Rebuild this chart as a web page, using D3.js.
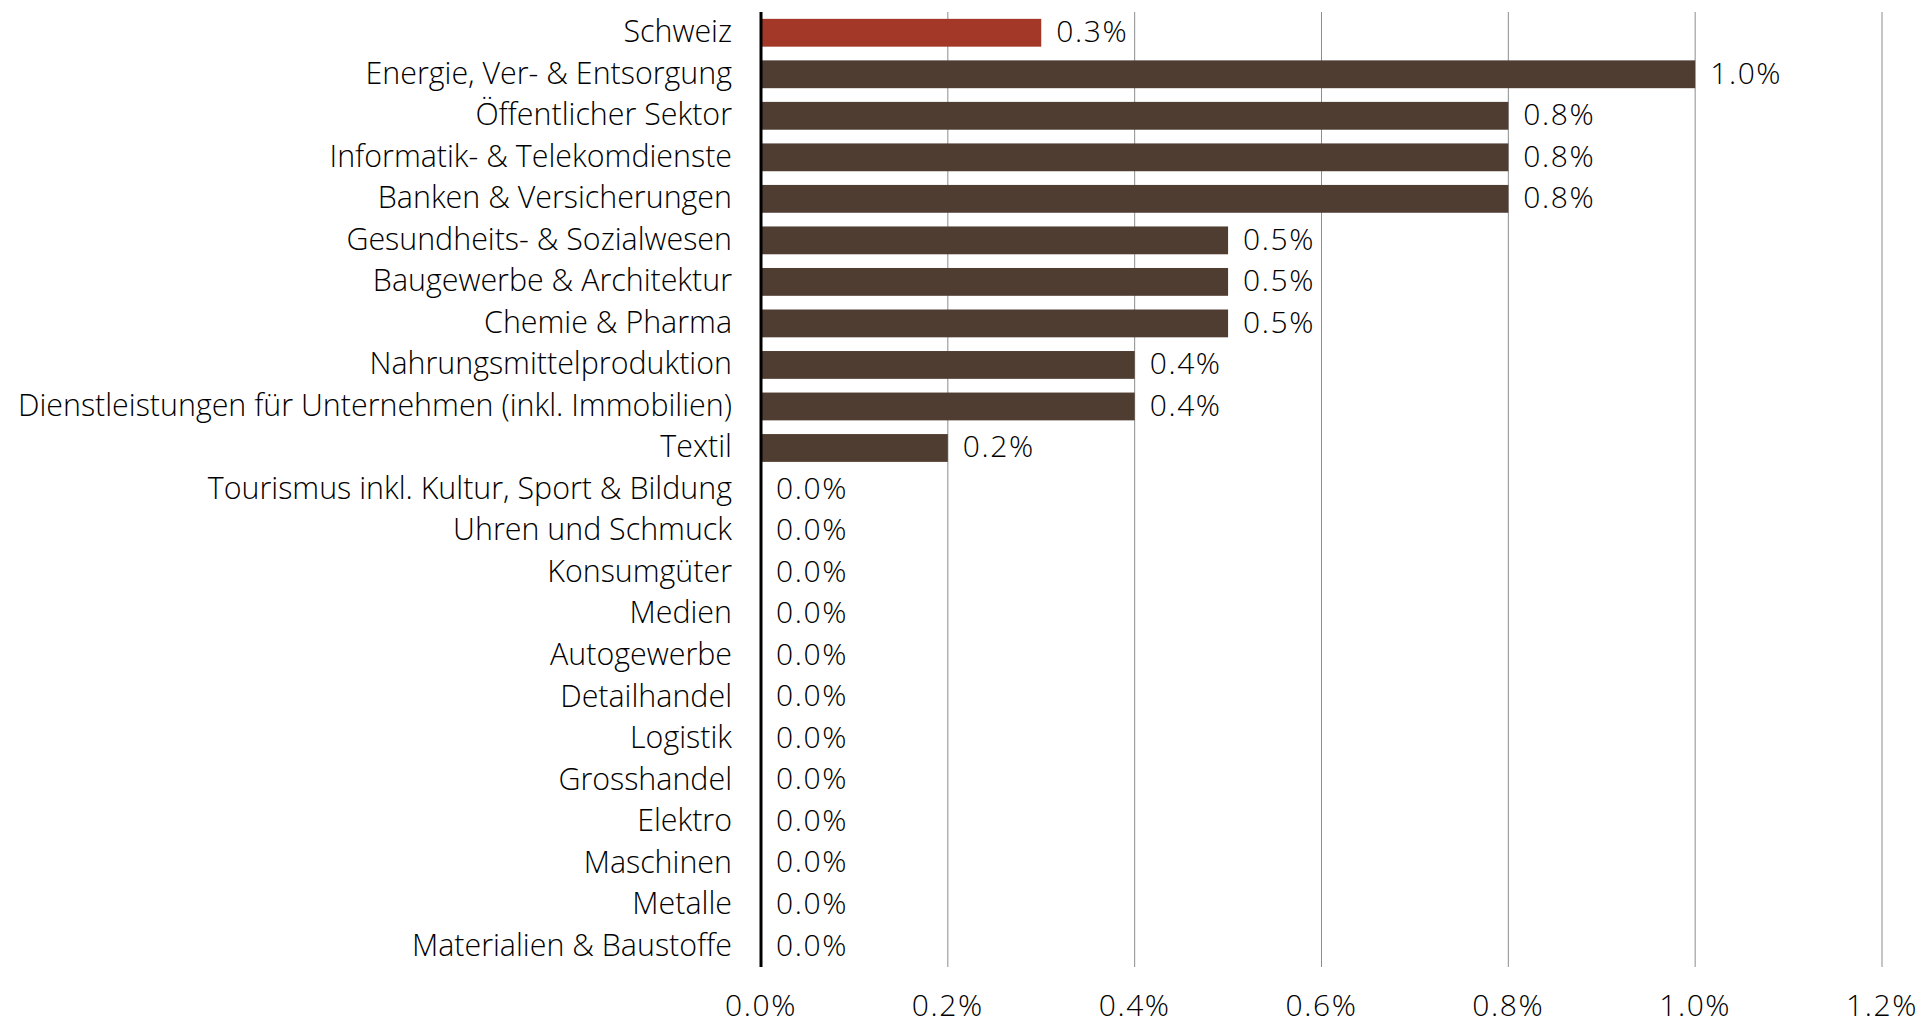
<!DOCTYPE html>
<html>
<head>
<meta charset="utf-8">
<script src="https://cdn.jsdelivr.net/npm/d3@7"></script>
<style>
  html, body { margin: 0; padding: 0; background: #fff; overflow: hidden; }
  text { font-family: "Open Sans", "Noto Sans", sans-serif; font-weight: 300; fill: #000; }
  .num { letter-spacing: 1.6px; }
</style>
</head>
<body>
<div id="chart"></div>
<script>

// categories, top to bottom
var categories = ["Schweiz", "Energie, Ver- & Entsorgung", "Öffentlicher Sektor",
  "Informatik- & Telekomdienste", "Banken & Versicherungen", "Gesundheits- & Sozialwesen",
  "Baugewerbe & Architektur", "Chemie & Pharma", "Nahrungsmittelproduktion",
  "Dienstleistungen für Unternehmen (inkl. Immobilien)", "Textil",
  "Tourismus inkl. Kultur, Sport & Bildung", "Uhren und Schmuck", "Konsumgüter", "Medien",
  "Autogewerbe", "Detailhandel", "Logistik", "Grosshandel", "Elektro", "Maschinen",
  "Metalle", "Materialien & Baustoffe"];

// values in percent
var values = [0.3, 1.0, 0.8, 0.8, 0.8, 0.5, 0.5, 0.5, 0.4, 0.4, 0.2,
  0.0, 0.0, 0.0, 0.0, 0.0, 0.0, 0.0, 0.0, 0.0, 0.0, 0.0, 0.0];

// x axis ticks
var ticks = [0, 0.2, 0.4, 0.6, 0.8, 1.0, 1.2];

var data = categories.map(function(c, i) { return {name: c, value: values[i]}; });

var width = 1924, height = 1021;
var margin = {top: 12, right: 42, bottom: 54, left: 761};

var svg = d3.select("#chart")
  .append("svg")
    .attr("width", width)
    .attr("height", height);

var x = d3.scaleLinear()
  .domain([0, 1.2])
  .range([margin.left, width - margin.right]);

var y = d3.scaleBand()
  .domain(categories)
  .range([margin.top, height - margin.bottom])
  .paddingInner(0.33)
  .paddingOuter(0.165);

var fmt = function(v) { return d3.format(".1f")(v) + "%"; };

// vertical gridlines
svg.append("g")
  .selectAll("line")
  .data(ticks.slice(1))
  .enter()
  .append("line")
    .attr("x1", function(d) { return x(d); })
    .attr("x2", function(d) { return x(d); })
    .attr("y1", margin.top)
    .attr("y2", height - margin.bottom)
    .attr("stroke", "#8c8c8c")
    .attr("stroke-width", 1);

// bars
svg.append("g")
  .selectAll("rect")
  .data(data)
  .enter()
  .append("rect")
    .attr("x", x(0))
    .attr("y", function(d) { return y(d.name); })
    .attr("width", function(d) { return x(d.value) - x(0); })
    .attr("height", y.bandwidth())
    .attr("fill", function(d, i) { return i === 0 ? "#a33828" : "#4f3d32"; });

// value labels
svg.append("g")
  .selectAll("text")
  .data(data)
  .enter()
  .append("text")
    .attr("class", "num")
    .attr("x", function(d) { return x(d.value) + 15; })
    .attr("y", function(d) { return y(d.name) + y.bandwidth() / 2; })
    .attr("dy", "0.31em")
    .style("font-size", "30px")
    .text(function(d) { return fmt(d.value); });

// category labels
svg.append("g")
  .selectAll("text")
  .data(data)
  .enter()
  .append("text")
    .attr("x", x(0) - 29)
    .attr("y", function(d) { return y(d.name) + y.bandwidth() / 2; })
    .attr("dy", "0.31em")
    .attr("text-anchor", "end")
    .style("font-size", "30.4px")
    .text(function(d) { return d.name; });

// x axis labels
svg.append("g")
  .selectAll("text")
  .data(ticks)
  .enter()
  .append("text")
    .attr("class", "num")
    .attr("x", function(d) { return x(d); })
    .attr("y", 1016)
    .attr("text-anchor", "middle")
    .style("font-size", "30px")
    .text(fmt);

// baseline
svg.append("line")
  .attr("x1", x(0))
  .attr("x2", x(0))
  .attr("y1", margin.top)
  .attr("y2", height - margin.bottom)
  .attr("stroke", "#000")
  .attr("stroke-width", 3);

</script>
</body>
</html>
